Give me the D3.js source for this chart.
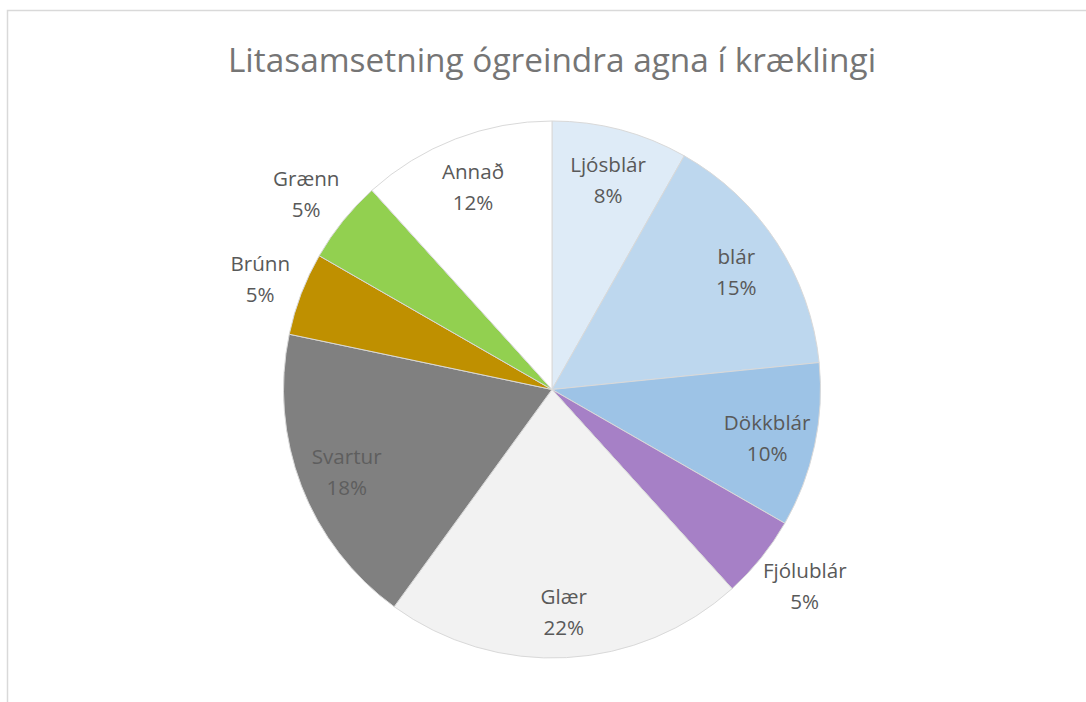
<!DOCTYPE html>
<html><head><meta charset="utf-8">
<script src="https://cdn.jsdelivr.net/npm/d3@7"></script>
<style>body{margin:0;background:#fff}svg{display:block}</style>
</head><body>
<svg id="c" width="1086" height="702"></svg>
<script>
const title = "Litasamsetning ógreindra agna í kræklingi";
const categories = ["Ljósblár","blár","Dökkblár","Fjólublár","Glær","Svartur","Brúnn","Grænn","Annað"];
const values = [8.2,15.2,9.9,5.0,21.7,18.3,5.0,5.0,11.7];
const colors = ["#DEEBF7","#BDD7EE","#9DC3E6","#A680C6","#F2F2F2","#808080","#BF9000","#92D050","#FFFFFF"];

const svg = d3.select("#c");
const W = 1086, H = 702;
svg.append("rect").attr("x",7.5).attr("y",10.5).attr("width",W+20).attr("height",H+20)
  .attr("fill","#fff").attr("stroke","#d9d9d9").attr("stroke-width",1.5);

svg.append("text").attr("x",552).attr("y",72).attr("text-anchor","middle")
  .attr("font-family","'Open Sans', sans-serif").attr("font-size",33.4).attr("fill","#757575")
  .text(title);

const cx = 552, cy = 389.5, R = 268.5;
const total = d3.sum(values);
const data = categories.map((c,i)=>({cat:c,value:values[i],color:colors[i]}));
const pie = d3.pie().value(d=>d.value).sort(null);
const arcs = pie(data);
const arc = d3.arc().innerRadius(0).outerRadius(R);
const g = svg.append("g").attr("transform",`translate(${cx},${cy})`);
g.selectAll("path").data(arcs).join("path")
  .attr("d",arc).attr("fill",d=>d.data.color).attr("stroke","#d9d9d9").attr("stroke-width",1);

const inLabel = d3.arc().innerRadius(220).outerRadius(220);
const lab = g.selectAll("text.lab").data(arcs).join("text").attr("class","lab")
  .attr("text-anchor","middle").attr("font-family","'Open Sans', sans-serif").attr("font-size",20.6)
  .attr("fill",d=>d.data.cat==="Svartur"?"#5e5e5e":"#595959");
lab.append("tspan").attr("x",0).attr("y",-5).text(d=>d.data.cat);
lab.append("tspan").attr("x",0).attr("y",26).text(d=>Math.round(d.data.value/total*100)+"%");
lab.attr("transform",function(d){
  if (d.data.value/total >= 0.06) { const p = inLabel.centroid(d); return `translate(${p[0]},${p[1]})`; }
  const bb = this.getBBox();
  const a = (d.startAngle + d.endAngle)/2;
  const ux = Math.sin(a), uy = -Math.cos(a);
  const rr = R + 14;
  const x = ux*rr + ux*bb.width/2;
  const y = uy*rr + uy*bb.height/2 - (bb.y + bb.height/2);
  return `translate(${x},${y})`;
});
</script>
</body></html>
